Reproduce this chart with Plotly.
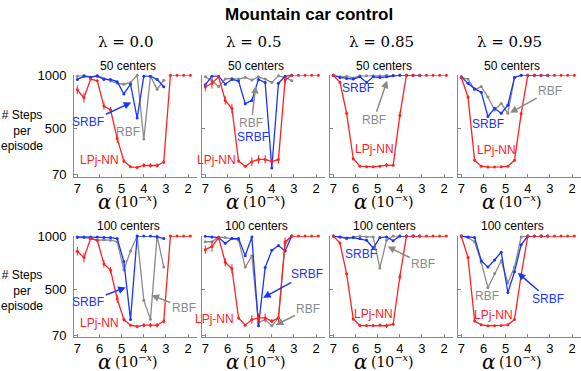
import plotly.graph_objects as go

# x = -log10(alpha)
log_alpha = [7.0, 6.7, 6.4, 6.1, 5.8, 5.5, 5.2, 4.9, 4.6, 4.3, 4.0, 3.7, 3.4, 3.1, 2.8, 2.5, 2.2, 1.9]
n_short = 14  # SRBF / RBF stop at 10^-3.1
lambdas = ["0.0", "0.5", "0.85", "0.95"]

# steps per episode, one list per lambda
lpj_50 = [
    [864, 790, 964, 948, 712, 676, 409, 200, 146, 140, 160, 158, 158, 191, 1000, 1000, 1000, 1000],
    [890, 925, 985, 765, 690, 200, 150, 193, 215, 215, 195, 215, 955, 1000, 1000, 1000, 1000, 1000],
    [1000, 933, 645, 221, 152, 146, 146, 152, 161, 160, 625, 1000, 1000, 1000, 1000, 1000, 1000, 1000],
    [979, 797, 206, 152, 143, 143, 146, 152, 206, 640, 1000, 1000, 1000, 1000, 1000, 1000, 1000, 1000],
]
srbf_50 = [
    [961, 990, 982, 991, 961, 961, 940, 825, 916, 600, 991, 991, 961, 892],
    [910, 991, 991, 916, 961, 946, 735, 765, 961, 931, 135, 925, 991, 1000],
    [1000, 979, 970, 964, 985, 933, 985, 979, 985, 994, 1000, 1000, 1000, 1000],
    [985, 924, 873, 842, 615, 691, 645, 721, 979, 1000, 1000, 1000, 1000, 1000],
]
rbf_50 = [
    [991, 1000, 982, 1000, 970, 946, 925, 916, 931, 1000, 404, 991, 870, 952],
    [985, 948, 894, 964, 970, 964, 979, 955, 985, 964, 933, 994, 979, 948],
    [1000, 985, 990, 975, 994, 994, 994, 994, 1000, 1000, 1000, 1000, 1000, 1000],
    [979, 964, 864, 894, 797, 676, 736, 645, 979, 1000, 1000, 1000, 1000, 1000],
]
lpj_100 = [
    [857, 797, 976, 961, 738, 678, 410, 216, 163, 151, 163, 163, 163, 201, 1000, 1000, 1000, 1000],
    [872, 902, 985, 753, 693, 231, 163, 216, 231, 231, 201, 231, 946, 1000, 1000, 1000, 1000, 1000],
    [1000, 933, 645, 221, 160, 160, 160, 165, 158, 172, 615, 1000, 1000, 1000, 1000, 1000, 1000, 1000],
    [1000, 798, 202, 167, 158, 158, 161, 167, 217, 634, 1000, 1000, 1000, 1000, 1000, 1000, 1000, 1000],
]
srbf_100 = [
    [991, 991, 991, 991, 985, 985, 976, 760, 216, 1000, 1000, 1000, 991, 976],
    [997, 991, 985, 931, 976, 976, 815, 990, 157, 705, 865, 910, 860, 1000],
    [1000, 991, 982, 985, 976, 960, 887, 985, 991, 955, 1000, 1000, 1000, 1000],
    [1000, 991, 985, 768, 708, 775, 848, 470, 664, 917, 1000, 1000, 1000, 1000],
]
rbf_100 = [
    [985, 985, 976, 961, 964, 961, 946, 680, 860, 1000, 396, 220, 1000, 710],
    [946, 946, 991, 985, 976, 961, 708, 812, 186, 216, 157, 230, 931, 1000],
    [1000, 991, 975, 991, 1000, 991, 991, 700, 960, 1000, 1000, 1000, 1000, 1000],
    [1000, 985, 946, 753, 515, 649, 768, 560, 708, 991, 1000, 1000, 1000, 1000],
]
# LPj-NN error bars (same for both centre counts)
lpj_err = [
    [40, 45, 10, 10, 35, 30, 40, 20, 5, 5, 20, 20, 20, 20, 0, 0, 0, 0],
    [40, 50, 10, 40, 45, 15, 5, 40, 40, 40, 20, 40, 40, 0, 0, 0, 0, 0],
    [0, 10, 20, 15, 5, 5, 5, 10, 20, 5, 30, 0, 0, 0, 0, 0, 0, 0],
    [5, 15, 10, 5, 5, 5, 5, 5, 10, 20, 0, 0, 0, 0, 0, 0, 0, 0],
]

RED = "#ff2020"
BLUE = "#1a33ff"
GRAY = "#8a8a8a"
SANS = "Liberation Sans, Arial, sans-serif"
SERIF = "DejaVu Serif, serif"

W, H = 581, 371
x_left = [74, 202, 330, 458]
pw = 123
row_top = [70.7, 237.3]
row_bot = [175.7, 341.7]

# label annotations per panel: (text, colour, text x, text y, head x, head y)
labels = [
    [("SRBF", BLUE, 6.5, 560, 4.57, 745), ("RBF", GRAY, 4.7, 473, None, None), ("LPj-NN", RED, 5.98, 212, None, None)],
    [("RBF", GRAY, 4.92, 550, 4.73, 900), ("SRBF", BLUE, 4.85, 421, None, None), ("LPj-NN", RED, 6.51, 212, None, None)],
    [("SRBF", BLUE, 5.9, 880, None, None), ("RBF", GRAY, 5.18, 580, 4.57, 950), ("LPj-NN", RED, 5.15, 311, None, None)],
    [("RBF", GRAY, 2.99, 856, 4.8, 650), ("SRBF", BLUE, 5.79, 541, None, None), ("LPj-NN", RED, 5.41, 302, None, None)],
    [("SRBF", BLUE, 6.51, 384, 4.82, 517), ("RBF", GRAY, 2.2, 325, 3.65, 445), ("LPj-NN", RED, 5.98, 181, None, None)],
    [("SRBF", BLUE, 2.42, 645, 4.39, 420), ("RBF", GRAY, 2.35, 316, 3.82, 166), ("LPj-NN", RED, 6.59, 217, None, None)],
    [("SRBF", BLUE, 5.75, 832, None, None), ("RBF", GRAY, 2.95, 735, 4.55, 901), ("LPj-NN", RED, 5.2, 271, None, None)],
    [("SRBF", BLUE, 3.07, 406, 4.45, 654), ("RBF", GRAY, 5.85, 436, None, None), ("LPj-NN", RED, 5.55, 256, None, None)],
]

fig = go.Figure()
layout = {}
annotations = []


def paper_note(text, px, py, font, **kw):
    # annotation placed by pixel position inside the figure
    d = dict(text=text, xref="paper", yref="paper", x=px / W, y=1 - py / H,
             showarrow=False, xanchor="center", yanchor="middle", font=font)
    d.update(kw)
    annotations.append(d)


rows = [(lpj_50, srbf_50, rbf_50, "50 centers"), (lpj_100, srbf_100, rbf_100, "100 centers")]
for r, (lpj, srbf, rbf, centers) in enumerate(rows):
    for c in range(4):
        k = r * 4 + c + 1
        sfx = "" if k == 1 else str(k)
        xa, ya = "x" + sfx, "y" + sfx

        fig.add_trace(go.Scatter(
            x=log_alpha[:n_short], y=rbf[c], xaxis=xa, yaxis=ya, mode="lines+markers",
            line=dict(color=GRAY, width=1.3), marker=dict(size=3, color=GRAY),
            cliponaxis=False, showlegend=False))
        fig.add_trace(go.Scatter(
            x=log_alpha[:n_short], y=srbf[c], xaxis=xa, yaxis=ya, mode="lines+markers",
            line=dict(color=BLUE, width=1.3), marker=dict(size=3, color=BLUE),
            cliponaxis=False, showlegend=False))
        fig.add_trace(go.Scatter(
            x=log_alpha, y=lpj[c], xaxis=xa, yaxis=ya, mode="lines+markers",
            line=dict(color=RED, width=1.3), marker=dict(size=3, color=RED),
            error_y=dict(type="data", array=lpj_err[c], color=RED, thickness=1, width=0),
            cliponaxis=False, showlegend=False))

        x0 = x_left[c] / W
        x1 = (x_left[c] + pw) / W
        y0 = 1 - row_bot[r] / H
        y1 = 1 - row_top[r] / H
        layout["xaxis" + sfx] = dict(
            domain=[x0, x1], anchor=ya, range=[7.15, 1.6], tickvals=[7, 6, 5, 4, 3, 2],
            ticks="inside", ticklen=3, tickcolor="#888", showline=True, linecolor="#888",
            linewidth=1, showgrid=False, zeroline=False, ticklabelstandoff=0,
            tickfont=dict(family=SANS, size=13, color="black"))
        layout["yaxis" + sfx] = dict(
            domain=[y0, y1], anchor=xa, range=[55, 1000], tickvals=[70, 500, 1000],
            showticklabels=(c == 0), ticks="inside", ticklen=3, tickcolor="#888",
            showline=True, linecolor="#888", linewidth=1, showgrid=False, zeroline=False,
            ticklabelstandoff=4, tickfont=dict(family=SANS, size=13, color="black"))

        # "n centers" subtitle
        paper_note(centers, x_left[c] + 54, row_top[r] - 10, dict(family=SANS, size=12, color="black"))
        # x-axis title: alpha (10^-x)
        paper_note("<i>α</i>", x_left[c] + 31, row_bot[r] + 26,
                   dict(family=SERIF, size=20, color="black"))
        paper_note("(10<sup>−<i>x</i></sup>)", x_left[c] + 62, row_bot[r] + 25,
                   dict(family=SERIF, size=14, color="black"))

        for text, col, tx, ty, hx, hy in labels[k - 1]:
            if hx is None:
                annotations.append(dict(
                    text=text, xref=xa, yref=ya, x=tx, y=ty, showarrow=False,
                    font=dict(family=SANS, size=12, color=col)))
            else:
                annotations.append(dict(
                    text=text, xref=xa, yref=ya, x=hx, y=hy, axref=xa, ayref=ya, ax=tx, ay=ty,
                    showarrow=True, arrowhead=2, arrowsize=1, arrowwidth=1.5, arrowcolor=col,
                    standoff=0, font=dict(family=SANS, size=12, color=col)))

# lambda column headers
for c, lam in enumerate(lambdas):
    paper_note("λ = " + lam, x_left[c] + 51, 36, dict(family=SERIF, size=15, color="black"))

# y-axis titles
for r in range(2):
    paper_note("# Steps<br>per<br>episode", 22, row_top[r] + 57,
               dict(family=SANS, size=12, color="black"), align="center")

# main title
paper_note("<b>Mountain car control</b>", 309.5, 8, dict(family=SANS, size=17, color="black"))

fig.update_layout(
    width=W, height=H, margin=dict(l=0, r=0, t=0, b=0),
    paper_bgcolor="white", plot_bgcolor="white",
    annotations=annotations, **layout)

fig.write_html("out.html", config={"displayModeBar": False},
               post_script="document.body.style.margin = '0';")
